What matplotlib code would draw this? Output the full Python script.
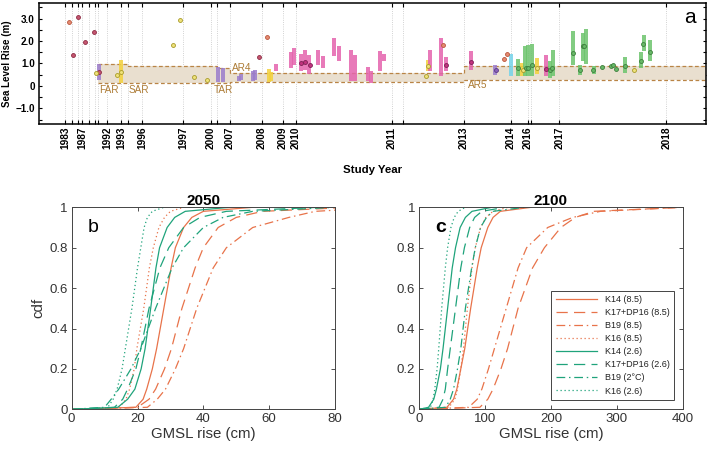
import numpy as np
import matplotlib
matplotlib.use("Agg")
import matplotlib.pyplot as plt
from matplotlib.ticker import MultipleLocator

plt.rcParams['font.family'] = ['Liberation Sans', 'DejaVu Sans']

# ---------------- panel a: study projections ----------------
# position along the (non-linear) study-year axis
grid_x = [65, 72, 77.5, 82, 89, 95, 97.5, 107, 121, 127.5, 142, 183, 211, 216.5,
          230, 261.5, 282.5, 296, 391.5, 402.5, 464, 510.5, 527.5, 530.5, 559, 666]
year_labels = {65: '1983', 82: '1987', 107: '1992', 121: '1993', 142: '1996',
               183: '1997', 211: '2000', 230: '2007', 261.5: '2008', 282.5: '2009',
               296: '2010', 391.5: '2011', 464: '2013', 510.5: '2014', 527.5: '2016',
               559: '2017', 666: '2018'}

# IPCC assessment ranges (start, end, low, high)
ipcc_names = ['FAR', 'SAR', 'TAR', 'AR4', 'AR5']
ipcc_start = [97.5, 127.5, 216.5, 230, 464]
ipcc_end = [127.5, 216.5, 230, 464, 706]
ipcc_low = [0.13, 0.13, 0.13, 0.18, 0.28]
ipcc_high = [0.99, 0.87, 0.80, 0.58, 0.87]

# range bars
bar_x = [98.5, 120.8, 218, 222.5, 238.6, 241.3, 252.8, 255.3, 268.5, 271, 275.7,
         291.3, 294, 300.7, 305, 309.2, 318.3, 323.3, 334.3, 338.7, 350.5, 355,
         368, 370.7, 379.7, 384.3, 428, 430, 441, 445.7, 470.8, 495.3, 511.3,
         518.3, 521.7, 525, 528.3, 532, 537, 545.8, 550, 552.7, 572.7, 579.8,
         583, 585.5, 593.5, 624.7, 640.5, 643.5, 650.3]
bar_low = [0.28, 0.13, 0.18, 0.18, 0.20, 0.28, 0.20, 0.28, 0.16, 0.20, 0.65,
           0.80, 0.95, 0.65, 0.69, 0.55, 0.95, 0.80, 1.32, 1.09, 0.20, 0.20,
           0.20, 0.13, 0.68, 1.09, 0.65, 0.65, 0.46, 0.65, 0.69, 0.50, 0.46,
           0.46, 0.43, 0.46, 0.43, 0.46, 0.55, 0.43, 0.36, 0.43, 0.95, 0.50,
           1.09, 0.99, 0.55, 0.58, 0.80, 1.54, 1.09]
bar_high = [0.99, 1.14, 0.85, 0.78, 0.46, 0.55, 0.65, 0.72, 0.76, 0.60, 0.99,
            1.49, 1.69, 1.43, 1.58, 1.39, 1.61, 1.35, 2.13, 1.79, 1.61, 1.40,
            0.83, 0.68, 1.54, 1.43, 1.17, 1.58, 2.13, 1.29, 1.54, 0.95, 1.44,
            1.20, 1.02, 1.79, 1.84, 1.88, 1.24, 1.39, 1.12, 1.58, 2.43, 0.95,
            2.36, 2.53, 0.87, 1.27, 1.51, 2.29, 2.06]
bar_kind = ['purple', 'yellow', 'purple', 'purple', 'purple', 'purple', 'purple',
            'purple', 'yellow', 'yellow', 'pink', 'pink', 'pink', 'pink', 'pink',
            'pink', 'pink', 'pink', 'pink', 'pink', 'pink', 'pink', 'pink', 'pink',
            'pink', 'pink', 'yellow', 'pink', 'pink', 'pink', 'pink', 'purple',
            'cyan', 'green', 'yellow', 'green', 'green', 'green', 'yellow', 'pink',
            'green', 'green', 'green', 'green', 'green', 'green', 'green', 'green',
            'green', 'green', 'green']

# point estimates
pt_x = [69, 266.7, 443.3, 504.3, 506.7,
        73.3, 78.3, 85, 94, 98.7, 259.3,
        96, 116.7, 121, 173.3, 180, 194, 207.3, 425.7, 427.7, 522.7, 536.7, 633.7,
        300.7, 305, 310, 446, 470.7, 545.7,
        495.7,
        518, 526, 528, 531.7, 550, 552.3, 572.7, 579.7, 582.7, 584.3, 593.3,
        602.3, 611, 613.3, 615.7, 624.7, 640.7, 643, 650]
pt_y = [2.87, 2.16, 1.84, 1.20, 1.44,
        1.39, 3.07, 1.98, 2.40, 0.62, 1.29,
        0.58, 0.49, 0.60, 1.84, 2.95, 0.38, 0.28, 0.46, 0.90, 0.72, 0.80, 0.69,
        1.02, 1.07, 0.92, 0.95, 1.07, 0.76,
        0.69,
        0.80, 0.80, 0.80, 0.92, 0.72, 0.80, 1.47, 0.69, 1.76, 1.76, 0.69,
        0.84, 0.87, 0.95, 0.77, 0.87, 1.12, 1.87, 1.51]
pt_kind = ['salmon'] * 5 + ['maroon'] * 6 + ['yellow'] * 12 + ['magenta'] * 6 + \
          ['purple'] + ['green'] * 19

bar_colors = {'purple': '#9b7ccc', 'yellow': '#f3d13c', 'pink': '#e463ad',
              'cyan': '#74d3ea', 'green': '#6cc46c'}
pt_face = {'salmon': '#e58b70', 'maroon': '#c4556f', 'yellow': '#efe27a',
           'magenta': '#c2337f', 'purple': '#8a62b8', 'green': '#67b867'}
pt_edge = {'salmon': '#b9563e', 'maroon': '#8e2d45', 'yellow': '#a79a2a',
           'magenta': '#7d1f55', 'purple': '#5a3a85', 'green': '#3d7f3d'}

# ---------------- panels b, c: cdfs ----------------
cdf_levels = [0, 0.01, 0.05, 0.1, 0.2, 0.3, 0.5, 0.7, 0.8, 0.9, 0.95, 0.98, 1.0]

rise_2050 = {
    'K14 (8.5)':        [0, 19.5, 21.7, 22.8, 24.5, 25.8, 28.0, 30.2, 31.5, 34.0, 36.5, 40.0, 55],
    'K17+DP16 (8.5)':   [0, 20.0, 23.5, 25.5, 28.2, 30.3, 33.5, 37.5, 40.0, 44.5, 50.0, 58.0, 85],
    'B19 (8.5)':        [0, 23.0, 26.0, 28.5, 31.5, 34.0, 38.0, 43.0, 47.0, 55.0, 66.0, 74.0, 95],
    'K16 (8.5)':        [12, 14.5, 16.5, 17.6, 19.0, 19.8, 21.9, 23.6, 24.8, 26.5, 28.2, 30.0, 34],
    'K14 (2.6)':        [0, 14.0, 17.0, 19.2, 21.1, 22.3, 24.0, 25.6, 26.7, 29.0, 31.3, 34.5, 48],
    'K17+DP16 (2.6)':   [0, 13.0, 15.5, 17.0, 19.5, 21.0, 23.5, 26.8, 29.5, 34.0, 39.0, 47.0, 75],
    'B19 (2\u00b0C)':   [0, 10.0, 12.0, 14.3, 18.0, 21.0, 25.5, 30.5, 34.0, 40.0, 46.0, 55.0, 80],
    'K16 (2.6)':        [9, 11.0, 12.6, 13.8, 15.3, 16.3, 18.3, 20.0, 21.0, 22.0, 23.0, 24.5, 28],
}
rise_2100 = {
    'K14 (8.5)':        [0, 42, 52, 57, 63, 69, 78, 88, 94, 104, 112, 123, 170],
    'K17+DP16 (8.5)':   [0, 92, 104, 112, 124, 134, 150, 172, 190, 215, 237, 265, 400],
    'B19 (8.5)':        [0, 75, 88, 95, 105, 114, 132, 150, 163, 195, 233, 275, 400],
    'K16 (8.5)':        [0, 45, 54, 58, 63, 67, 73, 80, 85, 93, 101, 112, 135],
    'K14 (2.6)':        [0, 14, 22, 26, 32, 36, 43, 50, 55, 62, 70, 80, 110],
    'K17+DP16 (2.6)':   [0, 30, 36, 39.5, 43, 47, 55, 63, 68.5, 76.5, 84, 95, 130],
    'B19 (2\u00b0C)':   [0, 40, 47, 52, 58, 63, 70, 79.5, 85, 93, 102, 112, 160],
    'K16 (2.6)':        [0, 17, 21, 23.5, 27, 29.5, 34, 39.5, 43, 48, 53, 59, 70],
}

orange = '#e8734a'
green = '#1fa37b'
styles = {
    'K14 (8.5)': (orange, '-'),
    'K17+DP16 (8.5)': (orange, (0, (9, 5))),
    'B19 (8.5)': (orange, (0, (7, 3, 1.2, 3))),
    'K16 (8.5)': (orange, (0, (1, 2.2))),
    'K14 (2.6)': (green, '-'),
    'K17+DP16 (2.6)': (green, (0, (9, 5))),
    'B19 (2\u00b0C)': (green, (0, (7, 3, 1.2, 3))),
    'K16 (2.6)': (green, (0, (1, 2.2))),
}

fig = plt.figure(figsize=(7.09, 4.55), dpi=100)

# ---- panel a ----
ax = fig.add_axes([0.0557, 0.7275, 0.9403, 0.2660])
ax.set_xlim(39.5, 706)
ax.set_ylim(-1.7, 3.7)

band_x = ipcc_start + [ipcc_end[-1]]
ax.fill_between(band_x, ipcc_low + [ipcc_low[-1]], ipcc_high + [ipcc_high[-1]],
                step='post', color='#e9dfcf', lw=0, zorder=1)
ax.step(band_x, ipcc_high + [ipcc_high[-1]], where='post', color='#b98445',
        ls=(0, (3, 2)), lw=0.9, zorder=2)
ax.step(band_x, ipcc_low + [ipcc_low[-1]], where='post', color='#b98445',
        ls=(0, (3, 2)), lw=0.9, zorder=2)

label_pos = {'FAR': (109, -0.17), 'SAR': (138.5, -0.17), 'TAR': (223.5, -0.2),
             'AR4': (242, 0.8), 'AR5': (477.5, 0.06)}
for name in ipcc_names:
    lx, ly = label_pos[name]
    ax.text(lx, ly, name, color='#ad7c36', fontsize=7.2, ha='center', va='center', zorder=5)

for x, lo, hi, k in zip(bar_x, bar_low, bar_high, bar_kind):
    ax.bar(x, hi - lo, bottom=lo, width=4.0, color=bar_colors[k], alpha=0.85,
           lw=0, zorder=3)
for k in pt_face:
    xs = [x for x, kk in zip(pt_x, pt_kind) if kk == k]
    ys = [y for y, kk in zip(pt_y, pt_kind) if kk == k]
    ax.scatter(xs, ys, s=8, facecolor=pt_face[k], edgecolor=pt_edge[k],
               linewidth=0.6, zorder=4)

ax.set_xticks(grid_x)
ax.set_xticklabels([year_labels.get(x, '') for x in grid_x], rotation=90,
                   fontsize=7.3, fontweight='bold')
ax.grid(axis='x', ls=':', color='#c4c4c4', lw=0.6)
ax.set_axisbelow(True)
ax.yaxis.set_major_locator(MultipleLocator(1))
ax.yaxis.set_minor_locator(MultipleLocator(0.5))
ax.set_yticks([-1, 0, 1, 2, 3])
ax.set_yticklabels(['\u22121.0', '0', '1.0', '2.0', '3.0'], fontsize=7.1, fontweight='bold')
ax.tick_params(which='both', direction='in', top=True, right=True, length=2.5, width=0.8)
ax.tick_params(axis='x', length=3, pad=2)
ax.set_ylabel('Sea Level Rise (m)', fontsize=7, fontweight='bold', labelpad=2)
ax.set_xlabel('Study Year', fontsize=8.2, fontweight='bold', labelpad=11)
for sp in ax.spines.values():
    sp.set_linewidth(1.1)
ax.text(0.985, 0.88, 'a', transform=ax.transAxes, fontsize=15, ha='right', va='center')

# ---- panels b, c ----
def cdf_panel(rect, data, xmax, xstep, title, letter, weight, legend=False):
    a = fig.add_axes(rect)
    for name, xs in data.items():
        col, ls = styles[name]
        a.plot(xs, cdf_levels, color=col, ls=ls, lw=0.9, label=name)
    a.set_xlim(0, xmax)
    a.set_ylim(0, 1)
    a.set_xticks(np.arange(0, xmax + 1, xstep))
    a.set_yticks([0, 0.2, 0.4, 0.6, 0.8, 1])
    a.set_yticklabels(['0', '0.2', '0.4', '0.6', '0.8', '1'])
    a.tick_params(direction='in', top=True, right=True, length=3, width=0.6,
                  labelsize=9.5, colors='#333333', pad=3)
    for sp in a.spines.values():
        sp.set_color('#444444')
        sp.set_linewidth(0.7)
    a.set_xlabel('GMSL rise (cm)', fontsize=10.8, color='#333333', labelpad=1)
    a.set_title(title, fontsize=11, fontweight='bold', pad=2)
    a.text(0.08, 0.9, letter, transform=a.transAxes, fontsize=14, fontweight=weight,
           ha='center', va='center')
    if legend:
        leg = a.legend(loc='lower right', bbox_to_anchor=(0.967, 0.046), borderaxespad=0,
                       fontsize=6.5, handlelength=4.6, labelspacing=0.45,
                       fancybox=False, edgecolor='#444444', framealpha=1,
                       borderpad=0.5, handletextpad=0.8)
        leg.get_frame().set_linewidth(0.7)
        for t in leg.get_texts():
            t.set_color('#222222')
    return a

axb = cdf_panel([0.1011, 0.1004, 0.3714, 0.4440], rise_2050, 80, 20, '2050', 'b', 'normal')
axb.set_ylabel('cdf', fontsize=10.8, color='#333333', labelpad=3)
axc = cdf_panel([0.5914, 0.1004, 0.3715, 0.4440], rise_2100, 400, 100, '2100', 'c', 'bold',
                legend=True)

fig.savefig('out.png', dpi=100)
